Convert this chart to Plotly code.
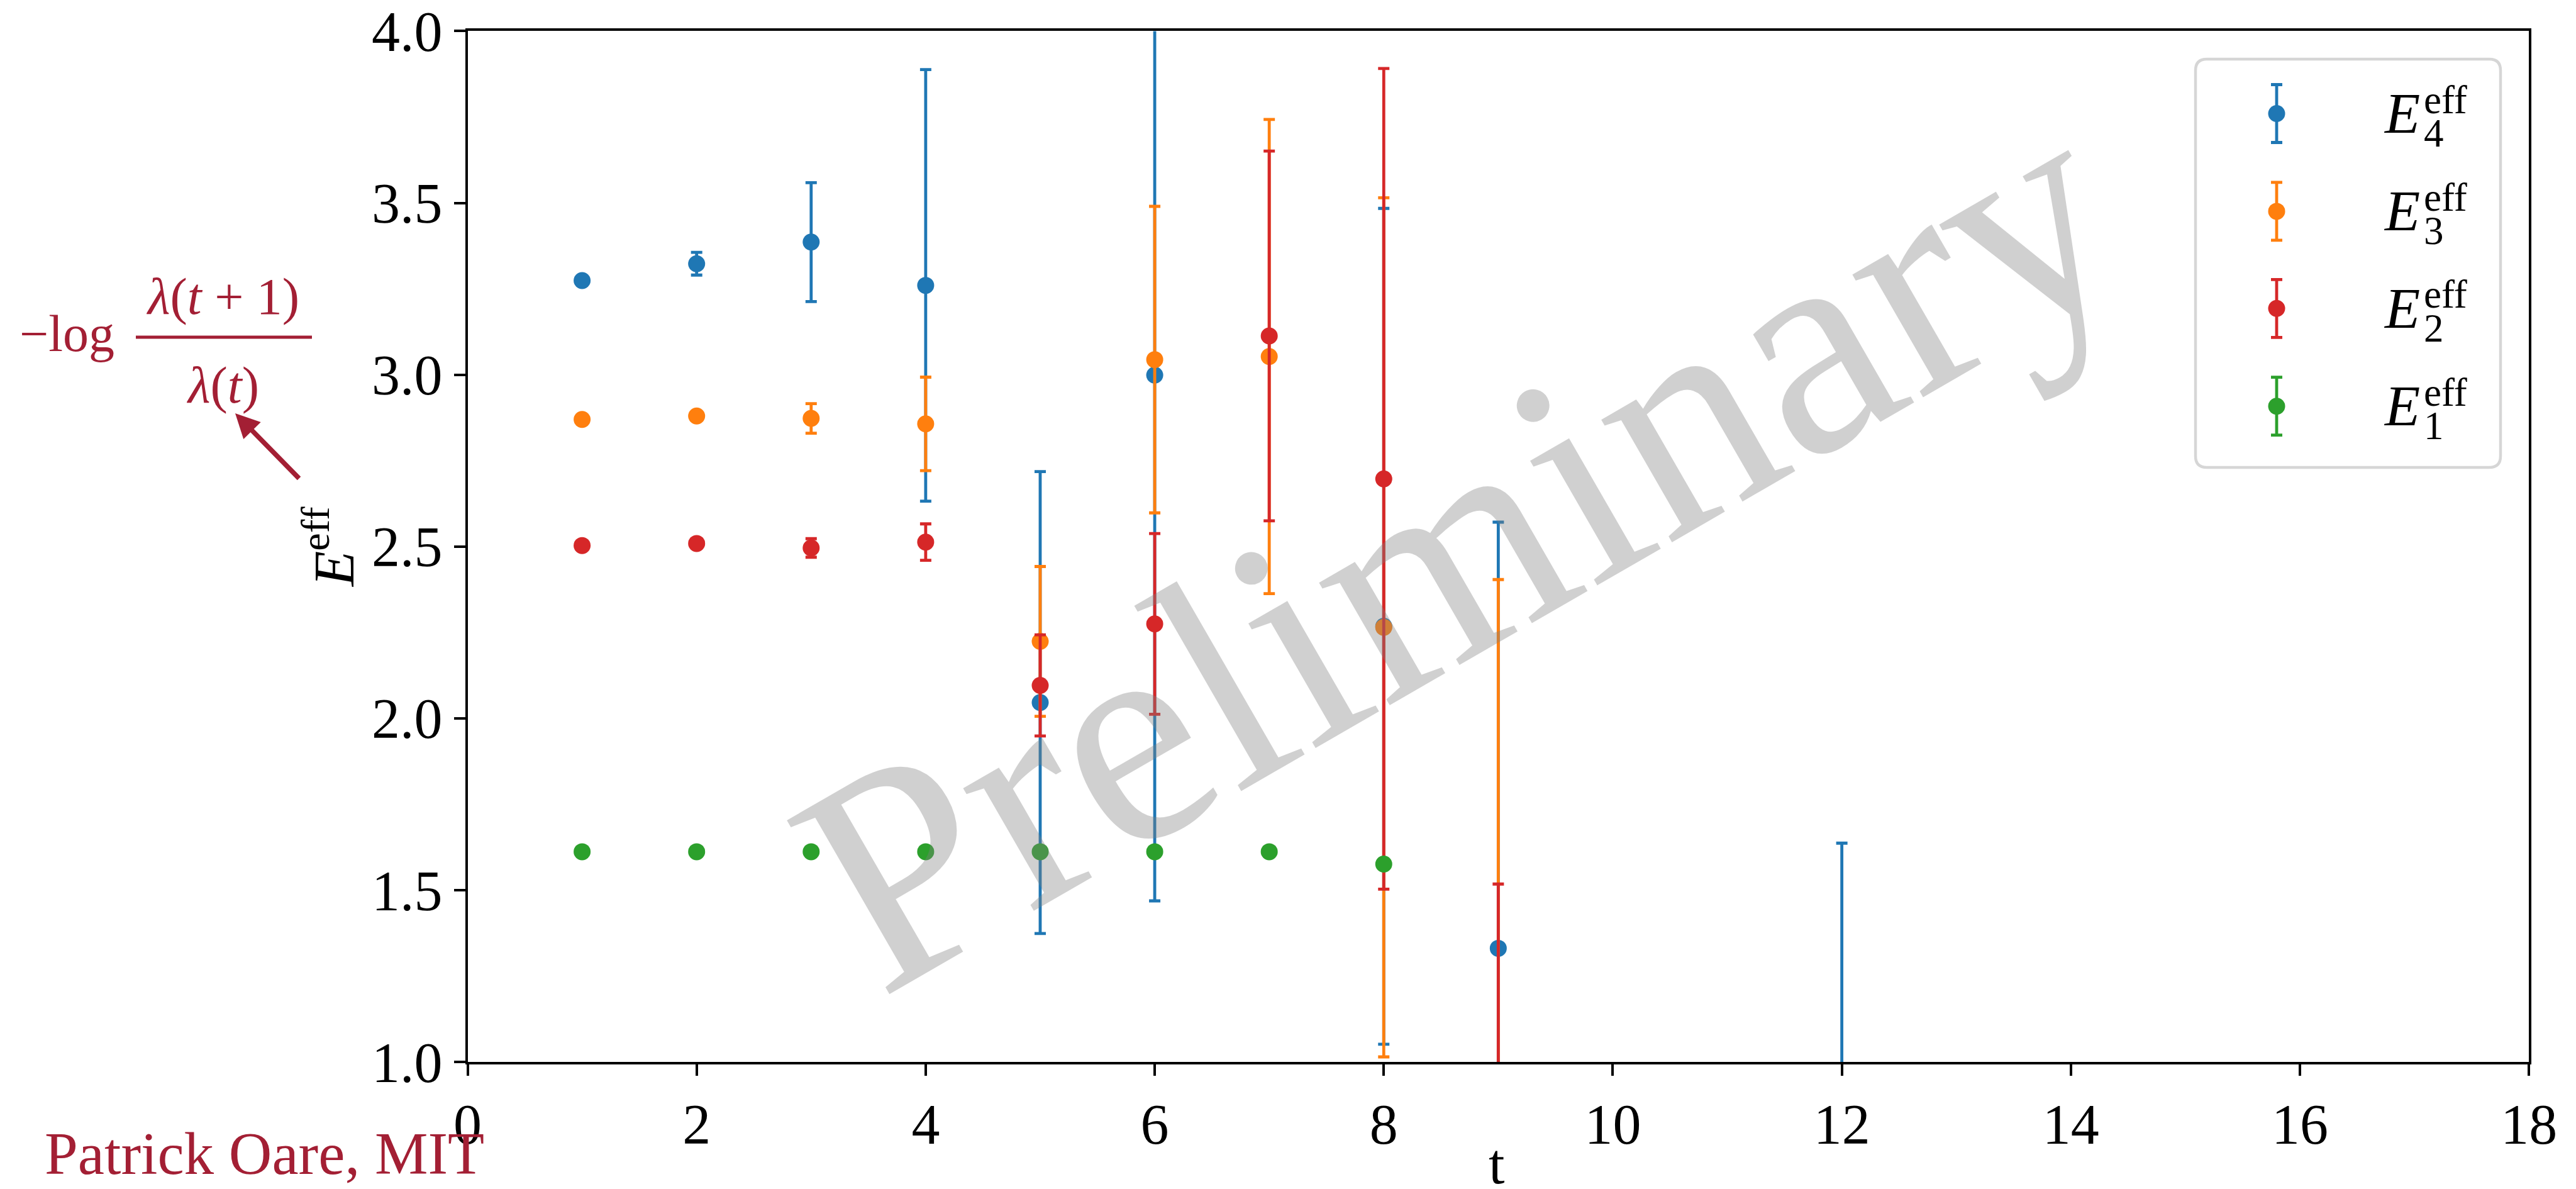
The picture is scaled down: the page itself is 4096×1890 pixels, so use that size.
import plotly.graph_objects as go

# ---- data -------------------------------------------------------------
t_e4 = [1, 2, 3, 4, 5, 6, 8, 9, 12]
e4 = [3.274, 3.323, 3.386, 3.260, 2.046, 2.999, 2.268, 1.331, 0.45]
e4_err = [0.008, 0.033, 0.173, 0.628, 0.672, 1.530, 1.216, 1.240, 1.187]

t_e3 = [1, 2, 3, 4, 5, 6, 7, 8, 9]
e3 = [2.870, 2.880, 2.873, 2.857, 2.224, 3.044, 3.053, 2.265, 0.55]
e3_err = [0.008, 0.008, 0.043, 0.136, 0.218, 0.446, 0.690, 1.250, 1.854]

t_e2 = [1, 2, 3, 4, 5, 6, 7, 8, 9]
e2 = [2.503, 2.509, 2.496, 2.513, 2.096, 2.275, 3.113, 2.697, 0.45]
e2_err = [0.008, 0.008, 0.027, 0.053, 0.147, 0.263, 0.538, 1.194, 1.068]

t_e1 = [1, 2, 3, 4, 5, 6, 7, 8]
e1 = [1.612, 1.612, 1.612, 1.612, 1.612, 1.612, 1.612, 1.576]
e1_err = [0.002, 0.002, 0.002, 0.002, 0.003, 0.003, 0.004, 0.010]

series_names = ["4", "3", "2", "1"]
series_colors = ["#1f77b4", "#ff7f0e", "#d62728", "#2ca02c"]

x_ticks = list(range(0, 19, 2))
y_ticks = [1.0, 1.5, 2.0, 2.5, 3.0, 3.5, 4.0]

# ---- layout constants (pixels) ----------------------------------------
W, H = 4096, 1890
PX0, PX1 = 743.5, 4021.2      # plot area, left/right
PY0, PY1 = 49.4, 1688.2       # plot area, top/bottom
FONT = "Liberation Serif"
MIT_RED = "#A31F34"
BAR_W = 4.8
CAP_W = 9
MK = 27


def px(x):
    return x / W


def py(y):
    return 1 - y / H


fig = go.Figure()

series = [(t_e4, e4, e4_err), (t_e3, e3, e3_err), (t_e2, e2, e2_err), (t_e1, e1, e1_err)]
for (tt, vv, ee), col in zip(series, series_colors):
    fig.add_trace(go.Scatter(
        x=tt, y=vv, mode="markers",
        marker=dict(color=col, size=MK, line=dict(width=0)),
        error_y=dict(type="data", array=ee, symmetric=True,
                     color=col, thickness=BAR_W, width=CAP_W),
        showlegend=False, xaxis="x", yaxis="y",
    ))

# ---- legend (pixel overlay) -------------------------------------------
LEG_X = 3620
LEG_Y = [180.5, 335.9, 490.3, 645.7]
for yy, col in zip(LEG_Y, series_colors):
    fig.add_trace(go.Scatter(
        x=[LEG_X], y=[yy], mode="markers",
        marker=dict(color=col, size=MK, line=dict(width=0)),
        error_y=dict(type="data", array=[46], symmetric=True,
                     color=col, thickness=BAR_W, width=CAP_W),
        showlegend=False, xaxis="x2", yaxis="y2", hoverinfo="skip",
    ))

bx0, bx1, by0, by1, r = 3491, 3976, 94, 743, 18
legend_path = (
    f"M{bx0 + r},{by0} L{bx1 - r},{by0} Q{bx1},{by0} {bx1},{by0 + r} "
    f"L{bx1},{by1 - r} Q{bx1},{by1} {bx1 - r},{by1} "
    f"L{bx0 + r},{by1} Q{bx0},{by1} {bx0},{by1 - r} "
    f"L{bx0},{by0 + r} Q{bx0},{by0} {bx0 + r},{by0} Z"
)
shapes = [dict(type="path", path=legend_path, xref="x2", yref="y2",
               line=dict(color="#d6d6d6", width=4.5), fillcolor="white",
               layer="below")]

annotations = []


def text_at(x, y, text, size, color="black", xanchor="left", yanchor="middle",
            angle=0):
    annotations.append(dict(
        x=px(x), y=py(y), xref="paper", yref="paper", text=text,
        showarrow=False, xanchor=xanchor, yanchor=yanchor, textangle=angle,
        font=dict(family=FONT, size=size, color=color),
    ))


# legend labels: E with stacked sub- and superscript
for yy, name in zip(LEG_Y, series_names):
    base = yy + 30.5
    text_at(3788, base - 0.34 * 92, "<i>E</i>", 92)
    text_at(3852, base - 31 - 0.34 * 63, "eff", 63)
    text_at(3852, base + 22.5 - 0.34 * 63, name, 63)

# axis titles
text_at(2380, 1881 - 0.34 * 92, "t", 92, xanchor="center")
text_at(524, 870, "<i>E</i><sup>eff</sup>", 92, xanchor="center", angle=-90)

# watermark
text_at(2318, 868, "Preliminary", 490, color="rgba(128,128,128,0.37)",
        xanchor="center", angle=-30)

# author credit
text_at(69, 1866 - 0.34 * 95, "Patrick Oare, MIT", 95, color=MIT_RED)

# definition of the effective energy, with arrow
text_at(29, 558.5 - 0.34 * 82, "−log", 82, color=MIT_RED)
text_at(354, 499 - 0.34 * 82, "<i>λ</i>(<i>t</i> + 1)", 82, color=MIT_RED,
        xanchor="center")
text_at(354, 640 - 0.34 * 82, "<i>λ</i>(<i>t</i>)", 82, color=MIT_RED,
        xanchor="center")
shapes.append(dict(type="line", xref="paper", yref="paper",
                   x0=px(216), x1=px(496), y0=py(536), y1=py(536),
                   line=dict(color=MIT_RED, width=5)))
annotations.append(dict(
    x=px(374), y=py(657), xref="paper", yref="paper", text="",
    showarrow=True, ax=103, ay=105, arrowhead=2, arrowsize=1,
    arrowwidth=7.7, arrowcolor=MIT_RED, standoff=0, startstandoff=0,
))

axis_common = dict(
    showgrid=False, zeroline=False, showline=True, linecolor="black",
    linewidth=4, mirror=True, ticks="outside", ticklen=18, tickwidth=4,
    tickcolor="black", tickfont=dict(family=FONT, size=90, color="black"),
    automargin=False,
)

fig.update_layout(
    width=W, height=H,
    margin=dict(l=0, r=0, t=0, b=0),
    paper_bgcolor="white", plot_bgcolor="rgba(0,0,0,0)",
    showlegend=False,
    xaxis=dict(domain=[px(PX0), px(PX1)], range=[0, 18], tickvals=x_ticks,
               ticktext=[str(v) for v in x_ticks], anchor="y", **axis_common),
    yaxis=dict(domain=[py(PY1), py(PY0)], range=[1, 4], tickvals=y_ticks,
               ticktext=[f"{v:.1f}" for v in y_ticks], anchor="x", **axis_common),
    xaxis2=dict(domain=[0, 1], range=[0, W], visible=False, anchor="y2",
                fixedrange=True),
    yaxis2=dict(domain=[0, 1], range=[H, 0], visible=False, anchor="x2",
                fixedrange=True),
    shapes=shapes,
    annotations=annotations,
)

fig.write_html("out.html")
